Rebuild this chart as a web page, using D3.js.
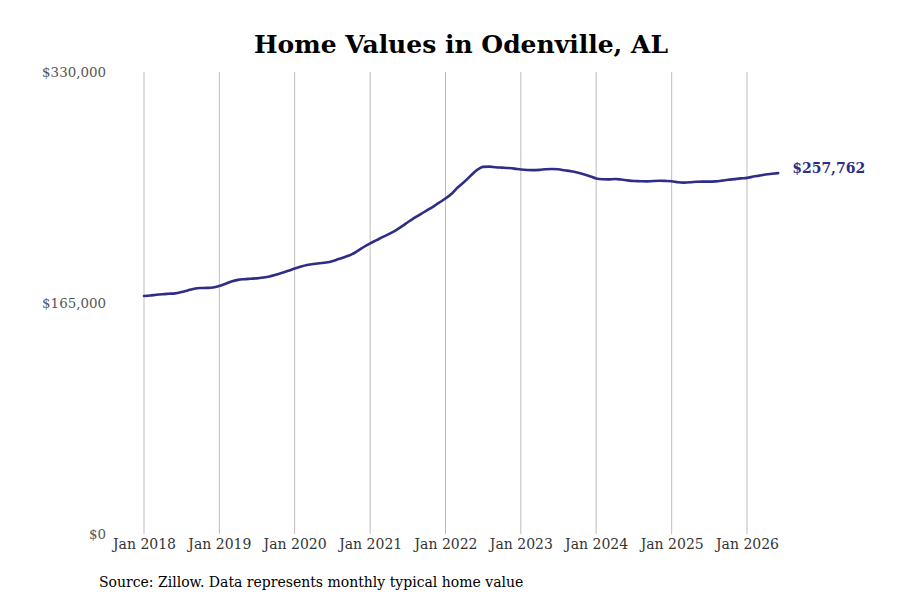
<!DOCTYPE html>
<html>
<head>
<meta charset="utf-8">
<script src="https://cdn.jsdelivr.net/npm/d3@7"></script>
<style>
  body { margin: 0; background: #fff; }
  svg { display: block; }
</style>
</head>
<body>
<svg id="chart" width="900" height="600"></svg>
<script>
// Monthly typical home value, Jan 2018 .. Jun 2026
const startYear = 2018;
const values = [
  170000, 170400, 170900, 171300, 171600, 171900, 172800, 174000, 175200, 175700, 175800, 176100,
  177200, 178800, 180400, 181500, 182000, 182300, 182600, 183200, 184000, 185200, 186600, 188000,
  189600, 191000, 192100, 192900, 193400, 193900, 194800, 196400, 197900, 199600, 202200, 205000,
  207600, 209900, 212000, 214200, 216600, 219500, 222500, 225600, 228300, 231000, 233700, 236700,
  239600, 243200, 247500, 251400, 255600, 259800, 262200, 262400, 262000, 261700, 261400, 261000,
  260400, 260000, 259900, 260100, 260500, 260700, 260500, 259800, 259100, 258200, 257000, 255600,
  254000, 253400, 253300, 253600, 253200, 252600, 252100, 252000, 251900, 252100, 252300, 252200,
  252000, 251200, 251000, 251200, 251600, 251700, 251700, 251900, 252400, 253000, 253500, 254000,
  254400, 255300, 256000, 256800, 257300, 257762
];
const yTicks = [0, 165000, 330000];
const xTickYears = [2018, 2019, 2020, 2021, 2022, 2023, 2024, 2025, 2026];
const titleText = "Home Values in Odenville, AL";
const sourceText = "Source: Zillow. Data represents monthly typical home value";
const lastLabel = "$257,762";

const data = values.map((v, i) => ({ date: new Date(startYear, i, 1), value: v }));

const svg = d3.select("#chart");
const serif = "'DejaVu Serif', serif";
const lineColor = "#2e2d88";

const x = d3.scaleTime()
  .domain([new Date(2018, 0, 1), new Date(2026, 0, 1)])
  .range([144, 747]);
const y = d3.scaleLinear().domain([0, 330000]).range([534, 72]);

// Vertical gridlines
svg.append("g")
  .selectAll("line")
  .data(xTickYears)
  .join("line")
  .attr("x1", d => x(new Date(d, 0, 1)))
  .attr("x2", d => x(new Date(d, 0, 1)))
  .attr("y1", y(330000))
  .attr("y2", y(0))
  .attr("stroke", "#bdbdbd")
  .attr("stroke-width", 1);

// X axis labels
const xAxis = d3.axisBottom(x)
  .tickValues(xTickYears.map(yr => new Date(yr, 0, 1)))
  .tickFormat(d3.timeFormat("Jan %Y"))
  .tickSize(0)
  .tickPadding(5);
const gx = svg.append("g").attr("transform", `translate(0,${y(0)})`).call(xAxis);
gx.select(".domain").remove();
gx.selectAll("text")
  .attr("font-family", serif)
  .attr("font-size", 14)
  .attr("fill", "#333");

// Y axis labels
const yAxis = d3.axisLeft(y)
  .tickValues(yTicks)
  .tickFormat(d => "$" + d3.format(",")(d))
  .tickSize(0)
  .tickPadding(0);
const gy = svg.append("g").attr("transform", "translate(106,0)").call(yAxis);
gy.select(".domain").remove();
gy.selectAll("text")
  .attr("font-family", serif)
  .attr("font-size", 13.4)
  .attr("fill", "#555");

// Line
const line = d3.line()
  .x(d => x(d.date))
  .y(d => y(d.value))
  .curve(d3.curveMonotoneX);
svg.append("path")
  .datum(data)
  .attr("d", line)
  .attr("fill", "none")
  .attr("stroke", lineColor)
  .attr("stroke-width", 2.6)
  .attr("stroke-linejoin", "round")
  .attr("stroke-linecap", "round");

// End label
const last = data[data.length - 1];
svg.append("text")
  .attr("x", x(last.date) + 14)
  .attr("y", y(last.value) - 4)
  .attr("dominant-baseline", "middle")
  .attr("font-family", serif)
  .attr("font-size", 14)
  .attr("font-weight", "bold")
  .attr("fill", lineColor)
  .text(lastLabel);

// Title
svg.append("text")
  .attr("x", 461)
  .attr("y", 53)
  .attr("text-anchor", "middle")
  .attr("font-family", serif)
  .attr("font-size", 25)
  .attr("font-weight", "bold")
  .attr("fill", "#000")
  .text(titleText);

// Source
svg.append("text")
  .attr("x", 99)
  .attr("y", 587)
  .attr("font-family", serif)
  .attr("font-size", 14)
  .attr("fill", "#000")
  .text(sourceText);
</script>
</body>
</html>
